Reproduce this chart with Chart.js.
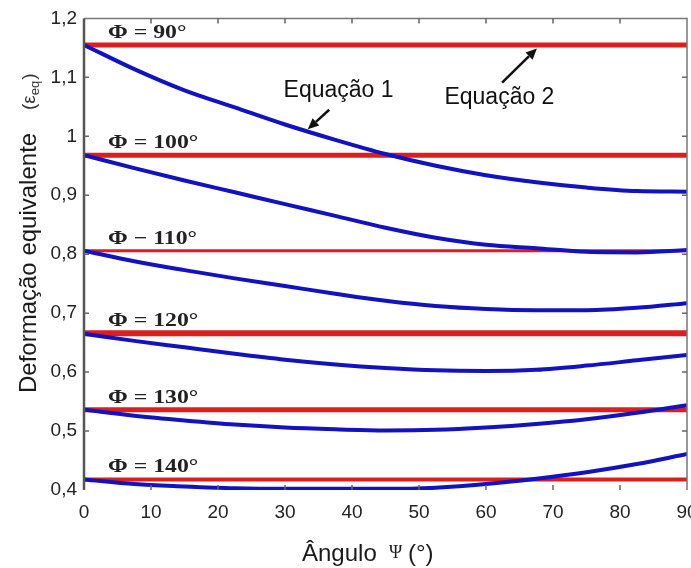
<!DOCTYPE html>
<html><head><meta charset="utf-8">
<script src="https://cdn.jsdelivr.net/npm/chart.js@4.4.1/dist/chart.umd.min.js"></script>
<style>
html,body{margin:0;padding:0;background:#fff;overflow:hidden;width:691px;height:568px}
#wrap{position:absolute;left:0;top:0;width:740px;height:568px}
</style>
</head><body><div id="wrap"><canvas id="c" width="740" height="568"></canvas></div>
<script>
// ---- data ----
const psi = [0, 7.5, 15, 22.5, 30, 37.5, 45, 52.5, 60, 67.5, 75, 82.5, 90];
const eq1Phi90  = [1.155, 1.114, 1.078, 1.049, 1.020, 0.994, 0.970, 0.950, 0.934, 0.922, 0.913, 0.907, 0.906];
const eq1Phi100 = [0.968, 0.946, 0.925, 0.905, 0.885, 0.865, 0.845, 0.828, 0.816, 0.810, 0.804, 0.803, 0.807];
const eq1Phi110 = [0.806, 0.788, 0.773, 0.759, 0.746, 0.733, 0.721, 0.712, 0.707, 0.705, 0.705, 0.709, 0.717];
const eq1Phi120 = [0.665, 0.653, 0.642, 0.631, 0.621, 0.613, 0.607, 0.603, 0.602, 0.604, 0.611, 0.620, 0.629];
const eq1Phi130 = [0.536, 0.526, 0.518, 0.511, 0.506, 0.503, 0.501, 0.502, 0.506, 0.512, 0.520, 0.531, 0.544];
const eq1Phi140 = [0.418, 0.410, 0.406, 0.403, 0.402, 0.402, 0.402, 0.404, 0.410, 0.419, 0.430, 0.444, 0.461];
const eq1Series = [eq1Phi90, eq1Phi100, eq1Phi110, eq1Phi120, eq1Phi130, eq1Phi140];
const eq2Values = [1.155, 0.968, 0.806, 0.666, 0.536, 0.418];
const phiLabels = ['Φ = 90°', 'Φ = 100°', 'Φ − 110°', 'Φ = 120°', 'Φ = 130°', 'Φ = 140°'];
const xTickValues = [0, 10, 20, 30, 40, 50, 60, 70, 80, 90];
const yTickValues = [0.4, 0.5, 0.6, 0.7, 0.8, 0.9, 1.0, 1.1, 1.2];

// ---- styles ----
const BLUE = '#1212bf';
const RED = '#dc1e1e';
const redWidths = [5, 5, 3, 6, 5, 4];

const datasets = [];
eq1Series.forEach((vals, i) => {
  datasets.push({
    label: 'Equação 1 ' + phiLabels[i],
    data: psi.map((p, k) => ({x: p, y: vals[k]})),
    borderColor: BLUE, borderWidth: 4, pointRadius: 0,
    cubicInterpolationMode: 'monotone', order: 1
  });
});
eq2Values.forEach((v, i) => {
  datasets.push({
    label: 'Equação 2 ' + phiLabels[i],
    data: [{x: psi[0], y: v}, {x: psi[psi.length - 1], y: v}],
    borderColor: RED, borderWidth: redWidths[i], pointRadius: 0, order: 2
  });
});

function fmt(v) { return String(Number(v.toFixed(1))).replace('.', ','); }

function stretchedText(ctx, text, x, y, font, sx, color) {
  ctx.save();
  ctx.font = font; ctx.fillStyle = color;
  ctx.translate(x, y); ctx.scale(sx, 1);
  ctx.fillText(text, 0, 0);
  ctx.restore();
}

function arrow(ctx, x1, y1, x2, y2) {
  const ang = Math.atan2(y2 - y1, x2 - x1);
  const hl = 11, hw = 5;
  ctx.save();
  ctx.strokeStyle = '#111'; ctx.fillStyle = '#111'; ctx.lineWidth = 2.5;
  ctx.beginPath();
  ctx.moveTo(x1, y1);
  ctx.lineTo(x2 - hl * Math.cos(ang), y2 - hl * Math.sin(ang));
  ctx.stroke();
  ctx.beginPath();
  ctx.moveTo(x2, y2);
  ctx.lineTo(x2 - hl * Math.cos(ang) + hw * Math.sin(ang), y2 - hl * Math.sin(ang) - hw * Math.cos(ang));
  ctx.lineTo(x2 - hl * Math.cos(ang) - hw * Math.sin(ang), y2 - hl * Math.sin(ang) + hw * Math.cos(ang));
  ctx.closePath(); ctx.fill();
  ctx.restore();
}

const decor = {
  id: 'decor',
  afterDatasetsDraw(chart) {
    const {ctx, chartArea: a, scales: {x, y}} = chart;
    ctx.save();
    // frame
    ctx.strokeStyle = '#777'; ctx.lineWidth = 1.5;
    ctx.beginPath();
    ctx.moveTo(a.left, a.top); ctx.lineTo(a.right, a.top); ctx.lineTo(a.right, a.bottom);
    ctx.stroke();
    ctx.strokeStyle = '#555'; ctx.lineWidth = 2.5;
    ctx.beginPath(); ctx.moveTo(a.left, a.top); ctx.lineTo(a.left, a.bottom); ctx.stroke();
    // inward ticks
    ctx.strokeStyle = '#666'; ctx.lineWidth = 1.5;
    xTickValues.slice(1, -1).forEach(v => {
      const px = x.getPixelForValue(v);
      ctx.beginPath(); ctx.moveTo(px, a.top); ctx.lineTo(px, a.top + 5);
      ctx.moveTo(px, a.bottom); ctx.lineTo(px, a.bottom - 5); ctx.stroke();
    });
    yTickValues.slice(1, -1).forEach(v => {
      const py = y.getPixelForValue(v);
      ctx.beginPath(); ctx.moveTo(a.left, py); ctx.lineTo(a.left + 5, py);
      ctx.moveTo(a.right, py); ctx.lineTo(a.right - 5, py); ctx.stroke();
    });
    // Phi labels
    ctx.textAlign = 'left'; ctx.textBaseline = 'alphabetic';
    phiLabels.forEach((t, i) => {
      const py = y.getPixelForValue(eq2Values[i]) - 7;
      const px = x.getPixelForValue(3.6);
      stretchedText(ctx, t, px, py, 'bold 19px "Liberation Serif"', 1.25, '#222');
    });
    // equation labels
    ctx.font = '23px "Liberation Sans"'; ctx.fillStyle = '#111';
    ctx.textAlign = 'center'; ctx.textBaseline = 'middle';
    ctx.fillText('Equação 1', x.getPixelForValue(38.0), y.getPixelForValue(1.077));
    ctx.fillText('Equação 2', x.getPixelForValue(62.0), y.getPixelForValue(1.065));
    arrow(ctx, x.getPixelForValue(36.6), y.getPixelForValue(1.045), x.getPixelForValue(33.4), y.getPixelForValue(1.012));
    arrow(ctx, x.getPixelForValue(62.4), y.getPixelForValue(1.091), x.getPixelForValue(67.6), y.getPixelForValue(1.149));
    ctx.restore();
  },
  afterDraw(chart) {
    const {ctx} = chart;
    ctx.save();
    ctx.fillStyle = '#1a1a1a';
    ctx.textBaseline = 'alphabetic'; ctx.textAlign = 'left';
    // y-axis title
    ctx.save();
    ctx.translate(36, 393); ctx.rotate(-Math.PI / 2);
    ctx.font = '24px "Liberation Sans"';
    ctx.fillText('Deformação equivalente', 0, 0);
    let cx = 283;
    ctx.fillStyle = '#333';
    ctx.font = '19px "Liberation Sans"';
    ctx.fillText('(ε', cx, -1); cx += ctx.measureText('(ε').width;
    ctx.font = '13px "Liberation Sans"';
    ctx.fillText('eq', cx, 3); cx += ctx.measureText('eq').width + 1;
    ctx.font = '19px "Liberation Sans"';
    ctx.fillText(')', cx, -1);
    ctx.restore();
    // x-axis title
    ctx.font = '24px "Liberation Sans"';
    ctx.fillText('Ângulo', 302, 561);
    ctx.font = '18px "Liberation Serif"';
    ctx.fillText('Ψ', 389, 558);
    ctx.font = '24px "Liberation Sans"';
    ctx.fillText('(°)', 408, 561);
    ctx.restore();
  }
};

new Chart(document.getElementById('c'), {
  type: 'line',
  data: {datasets},
  options: {
    responsive: false, animation: false, devicePixelRatio: 1,
    layout: {padding: {left: 0, right: 53, top: 15, bottom: 0}},
    plugins: {legend: {display: false}, tooltip: {enabled: false}},
    scales: {
      x: {
        type: 'linear', min: 0, max: 90,
        afterFit: s => { s.height = 78; },
        afterBuildTicks: s => { s.ticks = xTickValues.map(v => ({value: v})); },
        ticks: {color: '#222', padding: 11, font: {family: 'Liberation Sans', size: 19}, maxRotation: 0, autoSkip: false},
        grid: {display: false, drawTicks: false}, border: {display: false}
      },
      y: {
        type: 'linear', min: 0.4, max: 1.2,
        afterFit: s => { s.width = 84; },
        afterBuildTicks: s => { s.ticks = yTickValues.map(v => ({value: v})); },
        ticks: {color: '#222', padding: 7, font: {family: 'Liberation Sans', size: 19}, callback: v => fmt(v), autoSkip: false},
        grid: {display: false, drawTicks: false}, border: {display: false}
      }
    }
  },
  plugins: [decor]
});
</script>
</body></html>
